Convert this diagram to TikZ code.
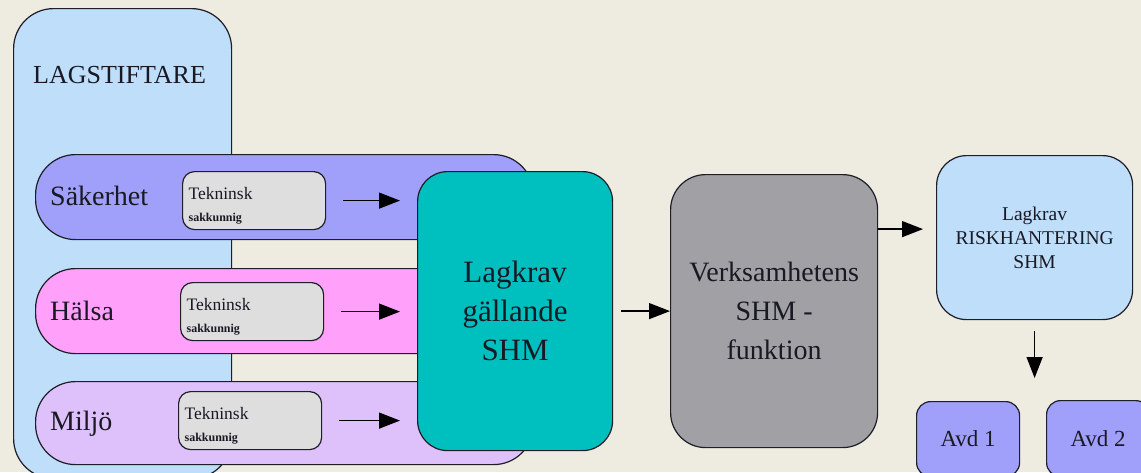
\documentclass[tikz,border=0pt]{standalone}
\usepackage{fontspec}
\setmainfont{Liberation Serif}
\usetikzlibrary{arrows.meta,calc}

\definecolor{bg}{RGB}{238,235,225}
\definecolor{lagblue}{RGB}{190,222,250}
\definecolor{sakband}{RGB}{160,160,250}
\definecolor{halband}{RGB}{255,160,250}
\definecolor{milband}{RGB}{222,192,250}
\definecolor{tekgray}{RGB}{222,222,222}
\definecolor{shmteal}{RGB}{0,191,191}
\definecolor{shmgray}{RGB}{160,160,165}
\definecolor{avdblue}{RGB}{160,160,250}
\definecolor{linec}{RGB}{30,30,40}
\definecolor{txt}{RGB}{25,25,35}

\newcommand{\tektext}{\rule{0pt}{22pt}Tekninsk\\[2pt]{\fontsize{12}{14}\selectfont\bfseries sakkunnig}}

\begin{document}
\begin{tikzpicture}[x=1pt,y=-1pt,
  card/.style={draw=linec, line width=1.2pt, anchor=north west, inner sep=0pt,
    align=center, text=txt},
  band/.style={card, rounded corners=40pt, minimum width=498pt},
  tekbox/.style={card, fill=tekgray, rounded corners=12pt, align=left,
    inner xsep=6pt, text width=131pt, minimum height=58pt,
    font=\fontsize{17.5}{20}\selectfont},
  lbl/.style={anchor=base west, inner sep=0pt, text=txt},
  arr/.style={-{Triangle[length=21pt,width=16pt]}, line width=1.4pt, draw=black},
]
% canvas
\fill[bg] (0,0) rectangle (1141,472);
\useasboundingbox (0,0) rectangle (1141,472);
\clip (0,0) rectangle (1141,472);

% legislator column
\node[card, fill=lagblue, rounded corners=40pt, minimum width=218pt,
  minimum height=470pt] (lag) at (13,8) {};
\node[lbl, font=\fontsize{26}{30}\selectfont] (lagtxt) at (33,83) {LAGSTIFTARE};

% the three areas
\node[band, fill=sakband, minimum height=85pt] (sak) at (35,154) {};
\node[band, fill=halband, minimum height=85pt] (hal) at (35,268) {};
\node[band, fill=milband, minimum height=83pt] (mil) at (35,381) {};
\node[lbl, font=\fontsize{28}{32}\selectfont] (saktxt) at (50,205) {Säkerhet};
\node[lbl, font=\fontsize{28}{32}\selectfont] (haltxt) at (50,320) {Hälsa};
\node[lbl, font=\fontsize{28}{32}\selectfont] (miltxt) at (50,430) {Miljö};

% technical experts
\node[tekbox] (tek1) at (182,171) {\tektext};
\node[tekbox] (tek2) at (180,282) {\tektext};
\node[tekbox] (tek3) at (178,391) {\tektext};

% main chain
\node[card, fill=shmteal, rounded corners=30pt, minimum width=195pt,
  minimum height=279pt, font=\fontsize{31}{39}\selectfont] (krav) at (417,171)
  {Lagkrav\\gällande\\SHM};
\node[card, fill=shmgray, rounded corners=35pt, minimum width=207pt,
  minimum height=273pt, font=\fontsize{28}{39}\selectfont] (verk) at (670,174)
  {Verksamhetens\\SHM -\\funktion};
\node[card, fill=lagblue, rounded corners=30pt, minimum width=196pt,
  minimum height=164pt, font=\fontsize{19.5}{24}\selectfont] (risk) at (936,155)
  {Lagkrav\\RISKHANTERING\\SHM};
\node[card, fill=avdblue, rounded corners=14pt, minimum width=103pt,
  minimum height=75pt, font=\fontsize{23}{27}\selectfont] (avd1) at (916,401) {Avd 1};
\node[card, fill=avdblue, rounded corners=14pt, minimum width=103pt,
  minimum height=76pt, font=\fontsize{23}{27}\selectfont] (avd2) at (1046,400) {Avd 2};

% connectors
\draw[arr, shorten <=17pt, shorten >=17pt] (tek1.east) -- (tek1.east -| krav.west);
\draw[arr, shorten <=17pt, shorten >=17pt] (tek2.east) -- (tek2.east -| krav.west);
\draw[arr, shorten <=17pt, shorten >=17pt] (tek3.east) -- (tek3.east -| krav.west);
\draw[arr, shorten <=8pt] (krav.east) -- (krav.east -| verk.west);
\draw[arr, shorten >=13pt] ([yshift=82pt]verk.east) -- ([yshift=82pt]verk.east -| risk.west);
\draw[arr, shorten <=11pt, shorten >=23pt] (risk.south) -- (risk.south |- avd1.north);
\end{tikzpicture}
\end{document}
